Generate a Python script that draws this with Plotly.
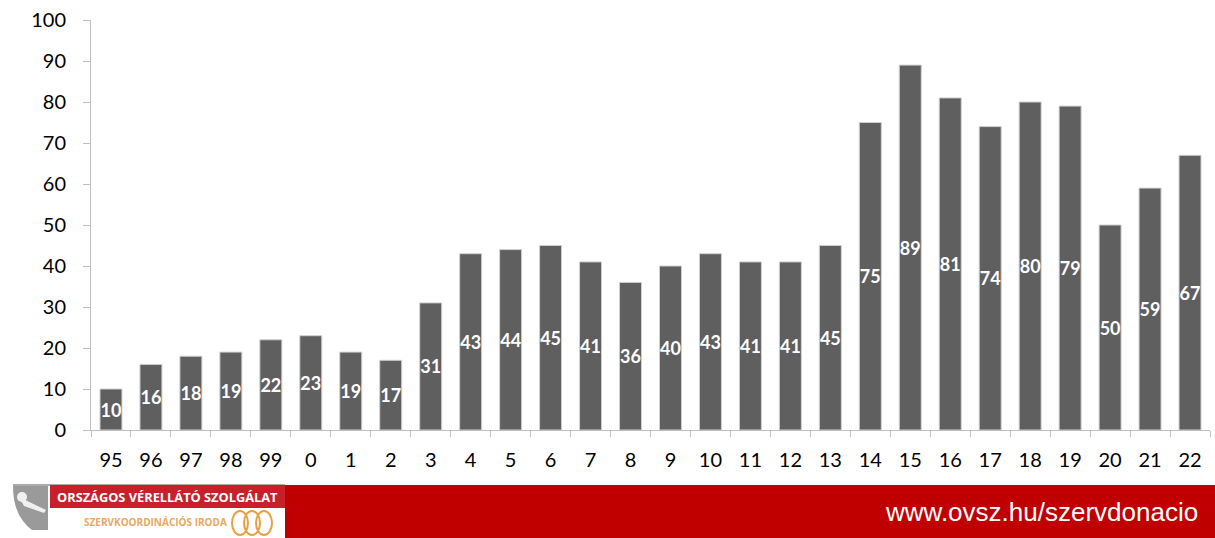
import plotly.graph_objects as go

years = ["95", "96", "97", "98", "99", "0", "1", "2", "3", "4", "5", "6", "7", "8",
         "9", "10", "11", "12", "13", "14", "15", "16", "17", "18", "19", "20", "21", "22"]
values = [10, 16, 18, 19, 22, 23, 19, 17, 31, 43, 44, 45, 41, 36,
          40, 43, 41, 41, 45, 75, 89, 81, 74, 80, 79, 50, 59, 67]

W, H = 1215, 538
ML, MR, MT, MB = 91, 5, 20, 108
PW, PH = W - ML - MR, H - MT - MB


def px(x):
    return (x - ML) / PW


def py(y):
    return 1 - (y - MT) / PH


FONT = "Lato, 'Open Sans', Arial, sans-serif"

fig = go.Figure()
fig.add_trace(go.Bar(
    x=years, y=values,
    marker=dict(color="#5f5f5f", line=dict(color="#d0d0d0", width=1)),
    text=[str(v) for v in values],
    textposition="inside",
    insidetextanchor="middle",
    constraintext="none",
    textangle=0,
    textfont=dict(color="white", size=18, family=FONT, weight="bold"),
    hoverinfo="x+y",
))

shapes = []
annotations = []

# Red banner on the right
shapes.append(dict(type="rect", xref="paper", yref="paper",
                   x0=px(285), x1=px(1215), y0=py(538), y1=py(485),
                   fillcolor="#c00000", line=dict(width=0), layer="above"))
annotations.append(dict(xref="paper", yref="paper", x=px(1200), y=py(512),
                        text="www.ovsz.hu/szervdonacio", showarrow=False,
                        xanchor="right", yanchor="middle",
                        font=dict(family="Arial, 'Liberation Sans', sans-serif", size=26, color="white")))

# Logo: thin top line
shapes.append(dict(type="line", xref="paper", yref="paper",
                   x0=px(13), x1=px(285), y0=py(485), y1=py(485),
                   line=dict(color="#555555", width=1)))
# Logo: red band with title
shapes.append(dict(type="rect", xref="paper", yref="paper",
                   x0=px(50), x1=px(285), y0=py(508), y1=py(485),
                   fillcolor="#c8202a", line=dict(width=0)))
annotations.append(dict(xref="paper", yref="paper", x=px(55), y=py(497),
                        text="<b>ORSZÁGOS VÉRELLÁTÓ SZOLGÁLAT</b>", showarrow=False,
                        xanchor="left", yanchor="middle",
                        font=dict(family="'Open Sans', sans-serif", size=12.8, color="white")))
annotations.append(dict(xref="paper", yref="paper", x=px(82), y=py(522),
                        text="<b>SZERVKOORDINÁCIÓS IRODA</b>", showarrow=False,
                        xanchor="left", yanchor="middle",
                        font=dict(family="'Open Sans', sans-serif", size=10, color="#eaa860")))
# Logo: pelican icon (gray block)
shapes.append(dict(type="path", xref="paper", yref="paper",
                   path=("M {a},{b} L {c},{b} L {c},{d} L {e},{d} Q {a},{f} {a},{b} Z").format(
                       a=px(13), b=py(486), c=px(48), d=py(530), e=px(32), f=py(516)),
                   fillcolor="#9a9a9a", line=dict(width=0)))
shapes.append(dict(type="path", xref="paper", yref="paper",
                   path=("M {a},{b} L {c},{d} L {e},{f} L {g},{h} Z").format(
                       a=px(19), b=py(497), c=px(46), d=py(510), e=px(44), f=py(513), g=px(24), h=py(506)),
                   fillcolor="#f0f0f0", line=dict(width=0)))
shapes.append(dict(type="circle", xref="paper", yref="paper",
                   x0=px(17), x1=px(27), y0=py(502), y1=py(492),
                   fillcolor="#f0f0f0", line=dict(width=0)))
# Logo: rings
for cx in (240, 252, 264):
    shapes.append(dict(type="circle", xref="paper", yref="paper",
                       x0=px(cx - 8), x1=px(cx + 8), y0=py(535), y1=py(511),
                       line=dict(color="#e8a040", width=2)))

fig.update_layout(
    width=W, height=H,
    margin=dict(l=ML, r=MR, t=MT, b=MB, pad=0),
    paper_bgcolor="white", plot_bgcolor="white",
    bargap=0.45,
    showlegend=False,
    font=dict(family=FONT, color="black", size=20),
    shapes=shapes,
    annotations=annotations,
    xaxis=dict(
        type="category",
        showline=True, linecolor="#bfbfbf", linewidth=1,
        ticks="outside", tickson="boundaries", ticklen=6, tickcolor="#bfbfbf",
        showgrid=False, ticklabelstandoff=12,
        tickfont=dict(size=20, family=FONT, color="black"),
    ),
    yaxis=dict(
        range=[0, 100], dtick=10, tick0=0,
        showline=True, linecolor="#bfbfbf", linewidth=1,
        ticks="outside", ticklen=7, tickcolor="#bfbfbf",
        showgrid=False, zeroline=False, ticklabelstandoff=13,
        tickfont=dict(size=20, family=FONT, color="black"),
    ),
)

fig.write_html("out.html")
